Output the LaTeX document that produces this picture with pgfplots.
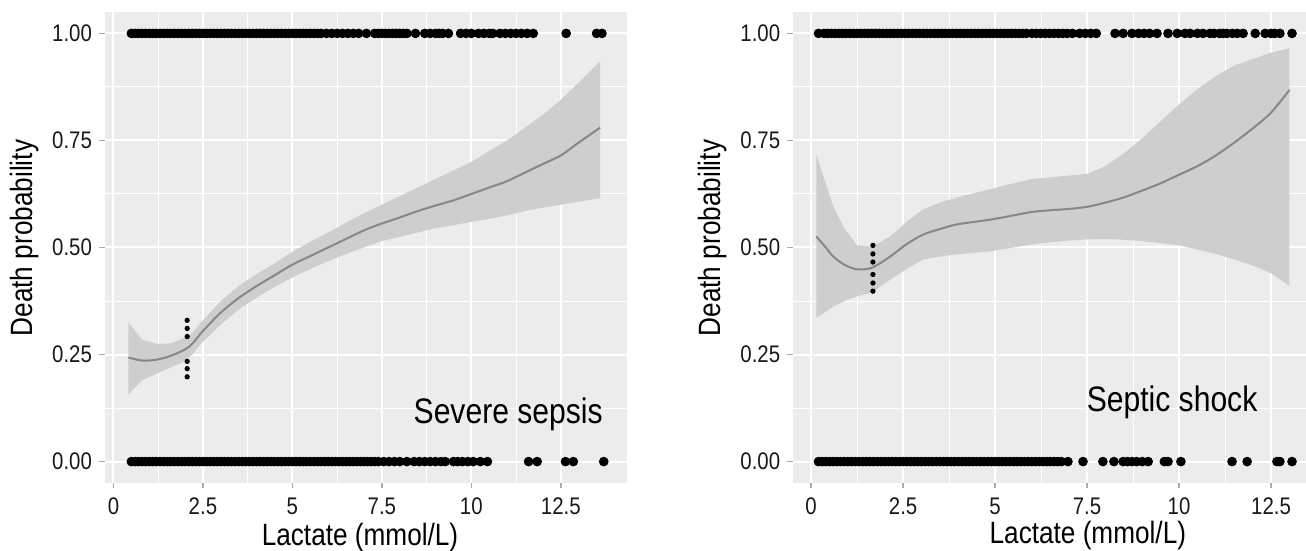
\documentclass[border=0pt]{standalone}
\usepackage{fontspec}
\setmainfont{Liberation Sans}[FakeStretch=0.85]
\usepackage{pgfplots}
\pgfplotsset{compat=1.18}
\usepgfplotslibrary{fillbetween}

\definecolor{panel}{RGB}{236,236,236}
\definecolor{band}{RGB}{206,206,206}
\definecolor{fitline}{RGB}{135,135,135}
\definecolor{tickc}{RGB}{170,170,170}

\pgfplotstableread{
x    fit   lo    hi
0.42 0.243 0.157 0.325
0.8  0.236 0.190 0.285
1.2  0.238 0.205 0.275
1.6  0.247 0.220 0.276
2.0  0.262 0.235 0.290
2.2  0.275 0.250 0.300
2.5  0.305 0.280 0.330
3.0  0.348 0.320 0.375
3.5  0.382 0.355 0.410
4.0  0.410 0.383 0.438
4.5  0.435 0.408 0.463
5.0  0.460 0.430 0.490
5.5  0.480 0.450 0.513
6.0  0.500 0.468 0.535
6.5  0.520 0.485 0.558
7.0  0.540 0.500 0.580
7.5  0.556 0.515 0.600
8.0  0.570 0.525 0.620
8.5  0.585 0.535 0.640
9.0  0.598 0.545 0.660
9.5  0.610 0.552 0.680
10.0 0.625 0.560 0.700
10.5 0.640 0.567 0.725
11.0 0.655 0.575 0.750
11.5 0.675 0.585 0.780
12.0 0.695 0.593 0.810
12.5 0.715 0.600 0.845
13.0 0.745 0.607 0.885
13.6 0.780 0.615 0.935
}\sepsis

\pgfplotstableread{
x    fit   lo    hi
0.14 0.526 0.336 0.717
0.4  0.500 0.350 0.650
0.6  0.479 0.362 0.596
0.9  0.460 0.375 0.545
1.25 0.449 0.386 0.505
1.66 0.453 0.395 0.502
2.15 0.479 0.425 0.526
2.6  0.508 0.450 0.560
3.04 0.530 0.472 0.589
3.5  0.543 0.479 0.605
3.97 0.554 0.484 0.617
4.86 0.565 0.491 0.636
5.5  0.575 0.500 0.650
6.0  0.583 0.507 0.660
6.5  0.587 0.512 0.664
7.0  0.590 0.516 0.668
7.5  0.595 0.519 0.672
8.0  0.605 0.520 0.690
8.5  0.617 0.518 0.720
9.0  0.633 0.515 0.755
9.5  0.650 0.510 0.795
10.0 0.670 0.505 0.834
10.5 0.690 0.495 0.870
11.0 0.715 0.485 0.900
11.5 0.745 0.472 0.925
12.0 0.778 0.458 0.940
12.5 0.815 0.440 0.955
13.0 0.868 0.410 0.965
}\shock

\pgfplotsset{
  panel/.style={
    scale only axis,
    ymin=-0.05, ymax=1.05,
    axis background/.style={fill=panel},
    axis line style={draw=none},
    grid=both,
    major grid style={white, line width=1pt},
    minor grid style={white, line width=0.5pt},
    minor x tick num=1, minor y tick num=1,
    minor tick length=0pt,
    tick align=outside, major tick length=2.75pt,
    tick style={tickc, line width=0.8pt},
    xtick pos=bottom, ytick pos=left,
    xtick={0,2.5,5,7.5,10,12.5},
    ytick={0,0.25,0.5,0.75,1},
    yticklabels={0.00,0.25,0.50,0.75,1.00},
    /pgf/number format/assume math mode=true,
    ticklabel style={font=\fontsize{12}{14}\selectfont, text=black!90},
    xticklabel style={anchor=north, inner sep=0pt, yshift=-4.5pt},
    label style={font=\fontsize{15.4}{18}\selectfont},
    xlabel={Lactate (mmol/L)},
    ylabel={Death probability},
    ylabel style={at={(axis description cs:0,0.52)}, anchor=center, yshift=40pt},
    clip=true,
  },
  dots/.style={only marks, mark=*, mark size=2.2pt, black, mark options={draw=black}},
  vdots/.style={only marks, mark=*, mark size=1.1pt, black},
}

\begin{document}
\begin{tikzpicture}

% Severe sepsis
\begin{axis}[panel,
  at={(52.25pt,34pt)}, anchor=south west,
  width=261.25pt, height=235.5pt,
  xmin=-0.25, xmax=14.35,
  xticklabels={0,2.5,5,7.5,10,12.5},
  xlabel style={at={(axis description cs:0.489,0)}, anchor=center, inner sep=0pt, yshift=-27.5pt},
]
\addplot[name path=up, draw=none] table[x=x, y=hi] {\sepsis};
\addplot[name path=dn, draw=none] table[x=x, y=lo] {\sepsis};
\addplot[band, draw=none] fill between[of=up and dn];
\addplot[fitline, line width=1pt, smooth] table[x=x, y=fit] {\sepsis};
\addplot[dots] coordinates {
(0.5,1)(0.6,1)(0.7,1)(0.8,1)(0.9,1)(1.0,1)(1.1,1)(1.2,1)(1.3,1)(1.4,1)
(1.5,1)(1.6,1)(1.7,1)(1.8,1)(1.9,1)(2.0,1)(2.1,1)(2.2,1)(2.3,1)(2.4,1)
(2.5,1)(2.6,1)(2.7,1)(2.8,1)(2.9,1)(3.0,1)(3.1,1)(3.2,1)(3.3,1)(3.4,1)
(3.5,1)(3.6,1)(3.7,1)(3.8,1)(3.9,1)(4.0,1)(4.1,1)(4.2,1)(4.3,1)(4.4,1)
(4.5,1)(4.6,1)(4.7,1)(4.8,1)(4.9,1)(5.0,1)(5.1,1)(5.2,1)(5.3,1)(5.4,1)
(5.5,1)(5.6,1)(5.7,1)(5.8,1)(5.95,1)(6.1,1)(6.25,1)(6.4,1)(6.55,1)(6.7,1)
(6.85,1)(7.07,1)(7.3,1)(7.4,1)(7.5,1)(7.6,1)(7.7,1)(7.8,1)(7.9,1)(8.0,1)
(8.1,1)(8.2,1)(8.44,1)(8.7,1)(8.85,1)(9.0,1)(9.1,1)(9.2,1)(9.36,1)
(9.7,1)(9.85,1)(10.0,1)(10.2,1)(10.35,1)(10.5,1)(10.6,1)
(10.8,1)(10.95,1)(11.1,1)(11.25,1)(11.4,1)(11.56,1)(11.73,1)(12.65,1)(13.5,1)(13.65,1)
(0.5,0)(0.6,0)(0.7,0)(0.8,0)(0.9,0)(1.0,0)(1.1,0)(1.2,0)(1.3,0)(1.4,0)
(1.5,0)(1.6,0)(1.7,0)(1.8,0)(1.9,0)(2.0,0)(2.1,0)(2.2,0)(2.3,0)(2.4,0)
(2.5,0)(2.6,0)(2.7,0)(2.8,0)(2.9,0)(3.0,0)(3.1,0)(3.2,0)(3.3,0)(3.4,0)
(3.5,0)(3.6,0)(3.7,0)(3.8,0)(3.9,0)(4.0,0)(4.1,0)(4.2,0)(4.3,0)(4.4,0)
(4.5,0)(4.6,0)(4.7,0)(4.8,0)(4.9,0)(5.0,0)(5.1,0)(5.2,0)(5.3,0)(5.4,0)
(5.5,0)(5.6,0)(5.7,0)(5.8,0)(5.9,0)(6.0,0)(6.1,0)(6.2,0)(6.3,0)(6.4,0)
(6.5,0)(6.6,0)(6.7,0)(6.8,0)(6.9,0)(7.0,0)(7.1,0)(7.2,0)(7.3,0)(7.4,0)
(7.55,0)(7.7,0)(7.85,0)(8.0,0)(8.2,0)(8.4,0)(8.55,0)(8.7,0)(8.85,0)(9.0,0)
(9.15,0)(9.27,0)(9.5,0)(9.62,0)(9.75,0)(9.9,0)(10.05,0)(10.25,0)(10.45,0)
(11.6,0)(11.84,0)(12.63,0)(12.85,0)(13.7,0)
};
\addplot[vdots] coordinates {
(2.06,0.330)(2.06,0.311)(2.06,0.292)(2.06,0.234)(2.06,0.217)(2.06,0.198)
};
\node[font=\fontsize{17.7}{20}\selectfont] at (axis cs:11.03,0.11) {Severe sepsis};
\end{axis}

% Septic shock
\begin{axis}[panel,
  at={(396.35pt,34pt)}, anchor=south west,
  width=256.65pt, height=235.5pt,
  xmin=-0.5, xmax=13.45,
  xticklabels={0,2.5,\raisebox{-5pt}{5},7.5,10,12.5},
  xlabel style={at={(axis description cs:0.575,0)}, anchor=center, inner sep=0pt, yshift=-26.5pt},
]
\addplot[name path=up, draw=none] table[x=x, y=hi] {\shock};
\addplot[name path=dn, draw=none] table[x=x, y=lo] {\shock};
\addplot[band, draw=none] fill between[of=up and dn];
\addplot[fitline, line width=1pt, smooth] table[x=x, y=fit] {\shock};
\addplot[dots] coordinates {
(0.2,1)(0.35,1)(0.45,1)(0.55,1)(0.65,1)(0.75,1)(0.85,1)(0.95,1)(1.05,1)(1.15,1)
(1.25,1)(1.35,1)(1.45,1)(1.55,1)(1.65,1)(1.75,1)(1.85,1)(1.95,1)(2.05,1)(2.15,1)
(2.25,1)(2.35,1)(2.45,1)(2.55,1)(2.65,1)(2.75,1)(2.85,1)(2.95,1)(3.05,1)(3.15,1)
(3.25,1)(3.35,1)(3.45,1)(3.55,1)(3.65,1)(3.75,1)(3.85,1)(3.95,1)(4.05,1)(4.15,1)
(4.25,1)(4.35,1)(4.45,1)(4.55,1)(4.65,1)(4.75,1)(4.85,1)(4.95,1)(5.05,1)(5.15,1)
(5.25,1)(5.35,1)(5.45,1)(5.55,1)(5.65,1)(5.75,1)(5.85,1)(6.0,1)(6.12,1)(6.24,1)
(6.36,1)(6.48,1)(6.6,1)(6.72,1)(6.84,1)(6.96,1)(7.1,1)(7.3,1)(7.45,1)(7.6,1)(7.75,1)
(8.26,1)(8.48,1)(8.72,1)(8.9,1)(9.05,1)(9.2,1)(9.4,1)(9.7,1)(9.95,1)
(10.16,1)(10.3,1)(10.5,1)(10.65,1)(10.84,1)(10.95,1)(11.1,1)(11.2,1)(11.3,1)(11.45,1)
(11.58,1)(11.74,1)(12.07,1)(12.34,1)(12.5,1)(12.6,1)(12.74,1)(13.07,1)
(0.2,0)(0.3,0)(0.4,0)(0.5,0)(0.6,0)(0.7,0)(0.8,0)(0.9,0)(1.0,0)(1.1,0)
(1.2,0)(1.3,0)(1.4,0)(1.5,0)(1.6,0)(1.7,0)(1.8,0)(1.9,0)(2.0,0)(2.1,0)
(2.2,0)(2.3,0)(2.4,0)(2.5,0)(2.6,0)(2.7,0)(2.8,0)(2.9,0)(3.0,0)(3.1,0)
(3.2,0)(3.3,0)(3.4,0)(3.5,0)(3.6,0)(3.7,0)(3.8,0)(3.9,0)(4.0,0)(4.1,0)
(4.2,0)(4.3,0)(4.4,0)(4.5,0)(4.6,0)(4.7,0)(4.8,0)(4.9,0)(5.0,0)(5.1,0)
(5.2,0)(5.3,0)(5.4,0)(5.5,0)(5.6,0)(5.7,0)(5.8,0)(5.9,0)(6.0,0)(6.1,0)
(6.2,0)(6.3,0)(6.4,0)(6.5,0)(6.6,0)(6.7,0)(6.8,0)(6.98,0)
(7.39,0)(7.93,0)(8.23,0)(8.48,0)(8.6,0)(8.72,0)(8.85,0)(9.0,0)(9.16,0)
(9.6,0)(9.7,0)(10.05,0)(11.44,0)(11.85,0)(12.66,0)(12.74,0)(13.07,0)
};
\addplot[vdots] coordinates {
(1.68,0.505)(1.68,0.485)(1.68,0.466)(1.68,0.437)(1.68,0.417)(1.68,0.398)
};
\node[font=\fontsize{17.7}{20}\selectfont] at (axis cs:9.81,0.138) {Septic shock};
\end{axis}

\pgfresetboundingbox
\path[use as bounding box] (0,0) rectangle (653pt,275.5pt);
\end{tikzpicture}
\end{document}
